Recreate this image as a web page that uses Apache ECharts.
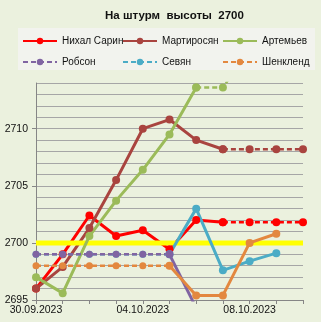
<!DOCTYPE html>
<html>
<head>
<meta charset="utf-8">
<script src="https://cdn.jsdelivr.net/npm/echarts@6/dist/echarts.min.js"></script>
<style>
  html, body { margin: 0; padding: 0; background: #EBF1DE; }
  #chart { width: 321px; height: 322px; }
</style>
</head>
<body>
<div id="chart"></div>
<script>
const days = ['30.09.2023', '01.10.2023', '02.10.2023', '03.10.2023', '04.10.2023', '05.10.2023',
  '06.10.2023', '07.10.2023', '08.10.2023', '09.10.2023', '10.10.2023'];
const yTicks = [2695, 2700, 2705, 2710];
const target = 2700;

// ratings by day (null = no point)
const sarin      = [2696, 2699, 2702.4, 2700.6, 2701.1, 2699.45, 2702, 2701.8, 2701.8, 2701.8, 2701.8];
const martiros   = [2696, 2697.9, 2701.3, 2705.5, 2710, 2710.8, 2709, 2708.2, 2708.2, 2708.2, 2708.2];
const artemiev   = [2697, 2695.6, 2700.6, 2703.7, 2706.4, 2709.5, 2713.6, 2713.6, 2717, null, null];
const robson     = [2699, 2699, 2699, 2699, 2699, 2699, 2694.3, null, null, null, null];
const sevian     = [2699, 2699, 2699, 2699, 2699, 2699, 2703, 2697.6, 2698.4, 2699.1, null];
const shankland  = [2698, 2698, 2698, 2698, 2698, 2698, 2695.4, 2695.4, 2700, 2700.8, null];

const FONT = 'Liberation Sans';

function part(name, values, from, to, color, dashed, width, size) {
  return {
    name: name,
    type: 'line',
    data: values.map((v, i) => (i >= from && i <= to ? v : null)),
    symbol: 'circle',
    symbolSize: size,
    color: color,
    itemStyle: { color: color },
    lineStyle: { color: color, width: width, type: dashed ? [5, 3] : 'solid' },
    emphasis: { disabled: true },
    animation: false
  };
}

const series = [
  part('Нихал Сарин', sarin, 0, 7, '#FF0000', false, 3, 8),
  part('Нихал Сарин ', sarin, 7, 10, '#FF0000', true, 2.5, 8),
  part('Мартиросян', martiros, 0, 7, '#A9443F', false, 3, 8),
  part('Мартиросян ', martiros, 7, 10, '#A9443F', true, 2.5, 8),
  {
    name: 'target', type: 'line', data: days.map(() => target), symbol: 'none',
    lineStyle: { color: '#FFFF00', width: 5 }, emphasis: { disabled: true }, animation: false
  },
  part('Артемьев', artemiev, 0, 6, '#9BBB59', false, 3, 8),
  part('Артемьев ', artemiev, 6, 10, '#9BBB59', true, 2.5, 8),
  part('Севян', sevian, 0, 5, '#4BACC6', true, 2.5, 7),
  part('Севян ', sevian, 5, 10, '#4BACC6', false, 3, 8),
  part('Робсон', robson, 0, 5, '#8064A2', true, 2.5, 7),
  part('Робсон ', robson, 5, 10, '#8064A2', false, 3, 8),
  part('Шенкленд', shankland, 0, 5, '#E3883F', true, 2.5, 7),
  part('Шенкленд ', shankland, 5, 10, '#E3883F', false, 3, 8)
];

function legendCol(left, names) {
  return {
    orient: 'vertical', left: left, top: 29, data: names,
    itemWidth: 34, itemHeight: 8, itemGap: 7,
    textStyle: { fontFamily: FONT, fontSize: 10, color: '#111', lineHeight: 14 },
    selectedMode: false
  };
}

const chart = echarts.init(document.getElementById('chart'));
chart.setOption({
  backgroundColor: '#EBF1DE',
  title: {
    text: 'На штурм  высоты  2700', left: 100, top: 5,
    textStyle: { fontFamily: FONT, fontSize: 11.5, fontWeight: 'bold', color: '#111' }
  },
  graphic: [{
    type: 'rect', z: -1, shape: { x: 18, y: 28, width: 297, height: 42 },
    style: { fill: '#F2F3EE' }
  }],
  legend: [
    legendCol(17, ['Нихал Сарин', 'Робсон']),
    legendCol(117, ['Мартиросян', 'Севян']),
    legendCol(217, ['Артемьев', 'Шенкленд'])
  ],
  grid: { left: 36, right: 18, top: 83, bottom: 22, containLabel: false },
  xAxis: {
    type: 'category', data: days, boundaryGap: false,
    axisLine: { lineStyle: { color: '#868686' } },
    axisTick: { show: true, length: 4, interval: 0, lineStyle: { color: '#868686' } },
    axisLabel: { interval: 3, fontFamily: FONT, fontSize: 10.5, color: '#111', margin: 5 },
    splitLine: { show: false }
  },
  yAxis: [{
    type: 'value', min: 2695, max: 2714, interval: 1,
    axisLine: { show: true, lineStyle: { color: '#868686' } },
    axisTick: { show: false },
    axisLabel: {
      fontFamily: FONT, fontSize: 10.5, color: '#111', margin: 8,
      formatter: v => (yTicks.includes(v) ? String(v) : '')
    },
    splitLine: { show: true, lineStyle: { color: '#A6A6A6', width: 1 } }
  }, {
    type: 'value', min: 2695, max: 2714, interval: 5, position: 'left',
    axisLine: { show: false },
    axisTick: { show: true, length: 4, customValues: yTicks, lineStyle: { color: '#868686' } },
    axisLabel: { show: false },
    splitLine: { show: false }
  }],
  series: series
});
</script>
</body>
</html>
